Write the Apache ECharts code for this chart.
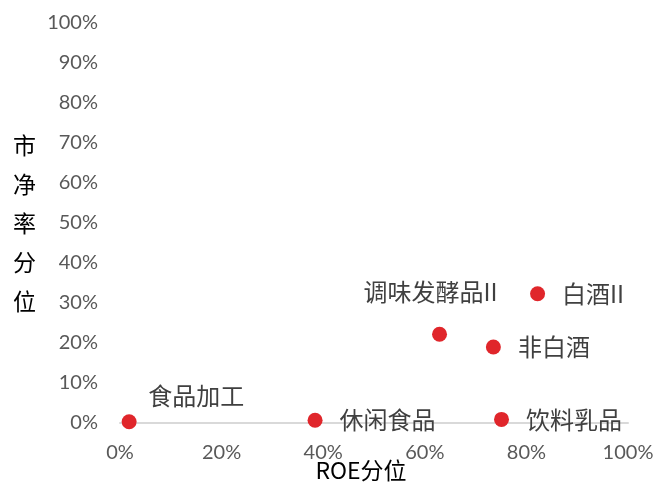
<!DOCTYPE html>
<html>
<head>
<meta charset="utf-8">
<script src="https://cdn.jsdelivr.net/npm/echarts@6/dist/echarts.min.js"></script>
<style>
  html, body { margin: 0; padding: 0; background: #fff; }
  #chart { width: 654px; height: 486px; }
</style>
</head>
<body>
<div id="chart"></div>
<script>
// 行业名称
const names = ['食品加工', '休闲食品', '饮料乳品', '调味发酵品II', '非白酒', '白酒II'];
// ROE分位 (%)
const roePct = [1.8, 38.4, 75.1, 62.9, 73.5, 82.2];
// 市净率分位 (%)
const pbPct = [0.3, 0.7, 0.9, 22.2, 19.0, 32.3];

// 个别标签位置
const labelPos = {
  '食品加工': { position: 'top', offset: [67, 11] },
  '调味发酵品II': { position: 'top', offset: [-9, -6] }
};

const chart = echarts.init(document.getElementById('chart'));

const cjk = '"Noto Sans CJK SC", sans-serif';

chart.setOption({
  animation: false,
  grid: { left: 120, right: 26, top: 23, bottom: 63, outerBoundsMode: 'none', containLabel: false },
  xAxis: {
    type: 'value',
    min: 0,
    max: 100,
    interval: 20,
    name: 'ROE分位',
    nameLocation: 'middle',
    nameGap: 36,
    nameMoveOverlap: false,
    nameTextStyle: { color: '#000', fontSize: 23, fontFamily: cjk, padding: [0, 26, 0, 0] },
    axisLine: { show: true, lineStyle: { color: '#d9d9d9', width: 2 } },
    axisTick: { show: false },
    splitLine: { show: false },
    axisLabel: { color: '#595959', fontSize: 20, fontFamily: 'Lato', margin: 20, formatter: '{value}%' }
  },
  yAxis: {
    type: 'value',
    min: 0,
    max: 100,
    interval: 10,
    name: '市\n净\n率\n分\n位',
    nameLocation: 'middle',
    nameRotate: 0,
    nameGap: 84,
    nameMoveOverlap: false,
    nameTextStyle: { color: '#000', fontSize: 23, fontFamily: cjk, lineHeight: 39, padding: [10, 0, 0, 0] },
    axisLine: { show: false },
    axisTick: { show: false },
    splitLine: { show: false },
    axisLabel: { color: '#595959', fontSize: 20, fontFamily: 'Lato', margin: 22, formatter: '{value}%' }
  },
  series: [{
    type: 'scatter',
    symbolSize: 15,
    itemStyle: { color: '#e0262b', opacity: 1 },
    data: names.map((n, i) => ({
      name: n,
      value: [roePct[i], pbPct[i]],
      label: Object.assign({ position: 'right', distance: 17 }, labelPos[n] || {})
    })),
    label: {
      show: true,
      formatter: '{b}',
      color: '#404040',
      fontSize: 24,
      fontFamily: cjk
    }
  }]
});
</script>
</body>
</html>
